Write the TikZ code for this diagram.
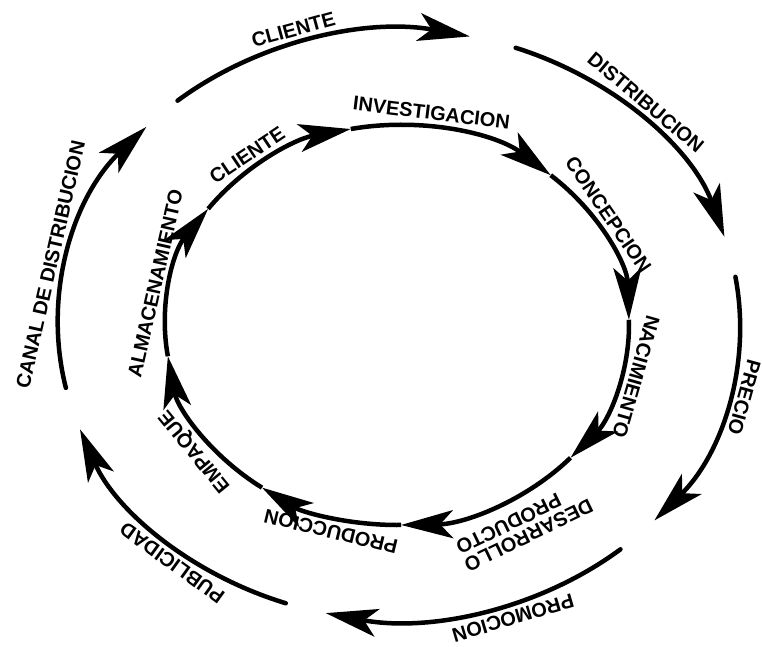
\documentclass[tikz,border=0pt]{standalone}
\usepackage{fontspec}
\setsansfont{Liberation Sans}
\usetikzlibrary{calc}
\usetikzlibrary{arrows.meta}

\begin{document}
\begin{tikzpicture}[x=1pt, y=1pt, line width=4.5pt, >={Stealth[length=52pt, width=28pt, inset=13pt]}, font=\sffamily\bfseries\fontsize{20}{21}\selectfont]
    \tikzstyle{ring}=[->, line cap=round]
    \tikzstyle{lab}=[sloped, allow upside down, above=5pt, inner sep=0pt, align=center]
    \useasboundingbox (0,0) rectangle (762,646);

    \coordinate (O) at (399,321);
    \coordinate (I) at (397,321);

    % outer ring
    \coordinate (cliente) at ($(O)+(130.5:341 and 295)$);
    \coordinate (distrib) at ($(O)+(70:341 and 295)$);
    \coordinate (precio) at ($(O)+(9.4:341 and 295)$);
    \coordinate (promo) at ($(O)+(-49.5:341 and 295)$);
    \coordinate (publi) at ($(O)+(-109.4:341 and 295)$);
    \coordinate (canal) at ($(O)+(192.3:341 and 295)$);

    \draw[ring] (cliente) arc[start angle=130.5, end angle=78, x radius=341, y radius=295] node[lab, pos=0.44] {CLIENTE};
    \draw[ring] (distrib) arc[start angle=70, end angle=17.4, x radius=341, y radius=295] node[lab, pos=0.46] {DISTRIBUCION};
    \draw[ring] (precio) arc[start angle=9.4, end angle=-41.5, x radius=341, y radius=295] node[lab, pos=0.45] {PRECIO};
    \draw[ring] (promo) arc[start angle=-49.5, end angle=-102.4, x radius=341, y radius=295] node[lab, pos=0.41] {PROMOCION};
    \draw[ring] (publi) arc[start angle=-109.4, end angle=-159.3, x radius=341, y radius=295] node[lab, pos=0.41] {PUBLICIDAD};
    \draw[ring] (canal) arc[start angle=192.3, end angle=137.8, x radius=341, y radius=295] node[lab, pos=0.43] {CANAL DE DISTRIBUCION};

    % inner ring
    \coordinate (cli2) at ($(I)+(144.5:232 and 200)$);
    \coordinate (inv) at ($(I)+(101.5:232 and 200)$);
    \coordinate (conc) at ($(I)+(48.5:232 and 200)$);
    \coordinate (nac) at ($(I)+(1.5:232 and 200)$);
    \coordinate (desa) at ($(I)+(-41.6:232 and 200)$);
    \coordinate (prod) at ($(I)+(-89:232 and 200)$);
    \coordinate (emp) at ($(I)+(-125.6:232 and 200)$);
    \coordinate (alm) at ($(I)+(-171:232 and 200)$);

    \draw[->] (cli2) arc[start angle=144.5, end angle=101.5, x radius=232, y radius=200] node[lab, pos=0.39] {CLIENTE};
    \draw[->] (inv) arc[start angle=101.5, end angle=48.5, x radius=232, y radius=200] node[lab, pos=0.37] {INVESTIGACION};
    \draw[->] (conc) arc[start angle=48.5, end angle=1.5, x radius=232, y radius=200] node[lab, pos=0.38] {CONCEPCION};
    \draw[->] (nac) arc[start angle=1.5, end angle=-41.6, x radius=232, y radius=200] node[lab, pos=0.355] {NACIMIENTO};
    \draw[->] (desa) arc[start angle=-41.6, end angle=-89, x radius=232, y radius=200] node[lab, pos=0.4, above=7pt, align=right, font=\sffamily\bfseries\fontsize{20}{19}\selectfont] {DESARROLLO\\PRODUCTO};
    \draw[->] (prod) arc[start angle=-89, end angle=-125.6, x radius=232, y radius=200] node[lab, pos=0.456] {PRODUCCION};
    \draw[->] (emp) arc[start angle=-125.6, end angle=-171, x radius=232, y radius=200] node[lab, pos=0.42] {EMPAQUE};
    \draw[->] (alm) arc[start angle=-171, end angle=-215.5, x radius=232, y radius=200] node[lab, pos=0.45] {ALMACENAMIENTO};
\end{tikzpicture}
\end{document}
